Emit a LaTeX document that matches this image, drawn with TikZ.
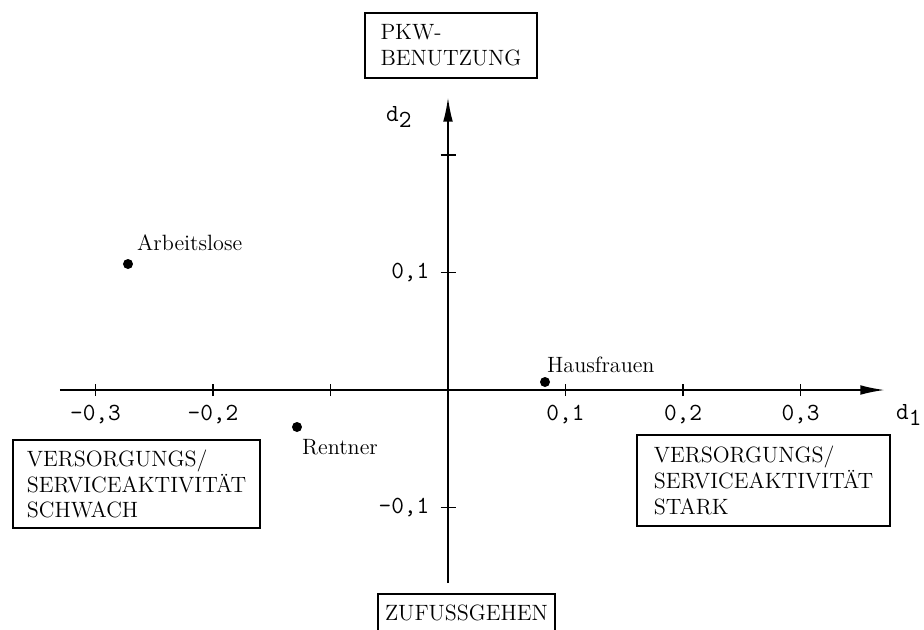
\documentclass[tikz,border=0pt]{standalone}
\usepackage{xcolor}
\usepackage{tikz}
\usetikzlibrary{arrows.meta,positioning}

\begin{document}
\begin{tikzpicture}[
    font=\fontsize{12.6}{14.6}\selectfont,
    axis/.style={line width=1.1pt,-{Latex[length=14pt,width=5.5pt]}},
    tick/.style={line width=0.9pt},
    ticklabel/.style={font=\fontsize{14}{16}\selectfont\ttfamily},
    pt/.style={circle,fill=black,inner sep=0pt,minimum size=2mm},
    catbox/.style={draw,line width=0.9pt,align=left}
]
    \useasboundingbox (-8.96,-4.78) rectangle (9.52,7.8);

    % Axes
    \coordinate (xleft) at (-7.76,0);
    \coordinate (xright) at (8.74,0);
    \coordinate (ybottom) at (0,-3.86);
    \coordinate (ytop) at (0,5.86);
    \draw[axis] (xleft) -- (xright);
    \draw[axis] (ybottom) -- (ytop);
    \node[ticklabel,anchor=west] (d1) at (8.84,-0.5) {d$_{\texttt{1}}$};
    \node[ticklabel,anchor=west] (d2) at (-1.36,5.46) {d$_{\texttt{2}}$};

    % Ticks on d1
    \foreach \x/\l in {-3/{-0,3},-2/{-0,2},1/{0,1},2/{0,2},3/{0,3}} {
        \draw[tick] (\x*2.35,-0.12) -- (\x*2.35,0.12);
        \node[ticklabel] (xt\x) at (\x*2.35,-0.5) {\l};
    }
    \draw[tick] (-2.35,-0.12) -- (-2.35,0.12);

    % Ticks on d2
    \foreach \y in {-1,1,2} {
        \draw[tick] (-0.15,\y*2.35) -- (0.15,\y*2.35);
    }
    \node[ticklabel,anchor=east] (yt1) at (-0.25,2.35) {0,1};
    \node[ticklabel,anchor=east] (ytm1) at (-0.25,-2.35) {-0,1};

    % Groups
    \node[pt] (arb) at (-6.4,2.52) {};
    \node[anchor=west] (arblabel) at (-6.34,2.94) {Arbeitslose};
    \node[pt] (rent) at (-3.02,-0.74) {};
    \node[anchor=west] (rentlabel) at (-3.04,-1.14) {Rentner};
    \node[pt] (haus) at (1.94,0.16) {};
    \node[anchor=west] (hauslabel) at (1.86,0.5) {Hausfrauen};

    % Pole boxes
    \node[catbox,minimum width=3.44cm,minimum height=1.3cm] (pkw) at (0.06,6.89) {PKW-\\BENUTZUNG};
    \node[catbox,minimum width=4.94cm,minimum height=1.76cm] (schwach) at (-6.23,-1.88)
        {VERSORGUNGS/\\SERVICEAKTIVITÄT\\SCHWACH};
    \node[catbox,minimum width=5.06cm,minimum height=1.82cm] (stark) at (6.31,-1.81)
        {VERSORGUNGS/\\SERVICEAKTIVITÄT\\STARK};
    \node[catbox,anchor=north,minimum width=3.54cm,inner ysep=0.23cm,text height=0.3cm,text depth=1cm]
        (zufuss) at (0.37,-4.06) {ZUFUSSGEHEN};
\end{tikzpicture}
\end{document}
